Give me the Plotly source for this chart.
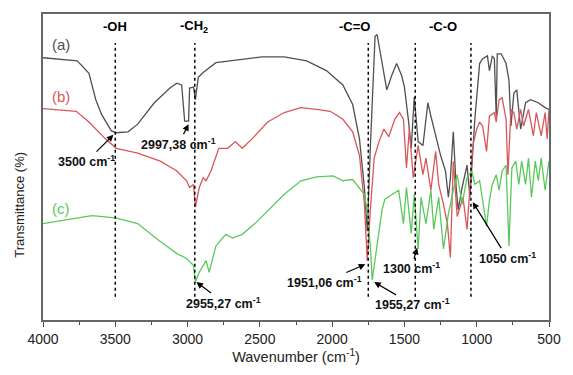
import plotly.graph_objects as go

# ---------------- data ----------------
wn_a = [4000, 3763, 3682, 3635, 3595, 3527, 3493, 3412, 3345, 3230, 3122, 3074, 3041, 3020, 2993,
        2986, 2959, 2946, 2926, 2892, 2804, 2649, 2486, 2331, 2176, 2040, 1926, 1858, 1811, 1777,
        1757, 1736, 1703, 1689, 1655, 1622, 1588, 1554, 1520, 1500, 1473, 1453, 1432, 1405, 1372,
        1338, 1317, 1284, 1250, 1216, 1196, 1182, 1162, 1142, 1128, 1101, 1067, 1047, 1013, 980,
        959, 926, 912, 892, 878, 865, 858, 831, 797, 777, 763, 743, 723, 696, 662, 628, 574, 527, 500]
t_a = [85.7, 84.7, 80.6, 72.0, 67.2, 61.8, 61.2, 61.5, 64.0, 71.0, 75.8, 77.4, 76.8, 65.0, 65.0,
       75.8, 76.1, 72.0, 79.3, 80.9, 84.1, 85.0, 86.0, 86.0, 84.7, 81.5, 76.8, 70.4, 59.2, 43.3,
       29.0, 56.1, 92.7, 93.3, 84.7, 75.2, 79.9, 83.8, 80.0, 76.1, 65.6, 56.1, 72.9, 58.3, 57.0,
       71.0, 66.6, 60.2, 53.8, 48.7, 40.1, 46.5, 61.5, 43.3, 36.0, 43.3, 50.6, 40.1, 65.6, 83.8,
       85.4, 86.3, 81.5, 86.3, 85.4, 66.6, 87.0, 87.0, 83.8, 78.4, 63.4, 74.2, 75.2, 62.4, 71.0,
       72.0, 71.0, 69.4, 68.8]

wn_b = [4000, 3770, 3682, 3568, 3493, 3345, 3189, 3074, 3007, 2986, 2959, 2946, 2919, 2892, 2872,
        2838, 2784, 2723, 2669, 2622, 2554, 2446, 2331, 2216, 2108, 2013, 1926, 1858, 1811, 1777,
        1757, 1736, 1709, 1676, 1642, 1608, 1567, 1534, 1507, 1486, 1466, 1439, 1405, 1372, 1351,
        1317, 1284, 1263, 1230, 1203, 1182, 1162, 1135, 1095, 1067, 1047, 1027, 1000, 980, 959,
        932, 912, 878, 865, 845, 824, 797, 784, 763, 743, 723, 696, 676, 642, 608, 588, 554, 527,
        513, 500]
t_b = [69.1, 68.2, 64.7, 59.2, 56.1, 54.5, 51.9, 48.7, 45.5, 43.3, 44.3, 36.9, 43.3, 46.5, 45.5,
       48.7, 56.1, 56.1, 58.3, 56.1, 59.2, 64.7, 67.8, 69.4, 68.8, 68.2, 65.6, 61.5, 53.8, 37.9,
       19.4, 36.0, 52.9, 58.3, 62.4, 59.9, 65.6, 67.8, 65.6, 49.7, 62.4, 46.5, 57.0, 47.5, 52.9,
       42.4, 55.1, 44.3, 37.9, 31.5, 20.4, 51.9, 33.8, 40.1, 29.6, 44.3, 57.0, 62.4, 64.7, 63.4,
       55.1, 66.6, 67.8, 64.7, 72.0, 72.6, 65.6, 47.5, 68.8, 67.8, 62.4, 68.8, 63.4, 68.8, 60.2,
       67.8, 60.2, 67.8, 59.2, 68.8]

wn_c = [4000, 3662, 3500, 3345, 3209, 3074, 3007, 2959, 2946, 2919, 2872, 2851, 2804, 2736, 2689,
        2622, 2534, 2419, 2331, 2216, 2108, 1993, 1926, 1858, 1811, 1777, 1757, 1736, 1723, 1689,
        1655, 1635, 1588, 1540, 1507, 1486, 1453, 1432, 1405, 1385, 1351, 1317, 1297, 1263, 1230,
        1196, 1162, 1135, 1101, 1067, 1034, 1013, 980, 959, 932, 912, 892, 865, 845, 824, 797, 777,
        757, 730, 709, 689, 662, 642, 621, 595, 574, 554, 527, 500]
t_c = [31.5, 34.1, 33.4, 31.5, 26.4, 21.7, 20.1, 17.8, 12.4, 15.6, 19.4, 15.6, 24.2, 28.0, 26.8,
       28.0, 31.5, 36.9, 41.1, 45.5, 46.8, 47.1, 45.5, 45.9, 43.3, 41.1, 35.4, 24.2, 13.1, 25.2,
       36.0, 39.5, 40.8, 42.4, 31.5, 43.3, 28.3, 41.1, 23.2, 40.1, 31.5, 42.4, 29.6, 40.1, 23.2,
       34.7, 42.4, 47.5, 37.9, 46.5, 48.7, 44.3, 45.5, 39.2, 30.6, 39.2, 44.3, 47.5, 42.4, 48.7,
       50.6, 24.2, 49.7, 51.9, 44.3, 51.9, 44.3, 52.9, 40.1, 51.9, 45.5, 52.9, 42.4, 51.9]

x_ticks = [4000, 3500, 3000, 2500, 2000, 1500, 1000, 500]
band_positions = [3500, 2950, 1750, 1425, 1040]
band_labels = ["-OH", "-CH<sub>2</sub>", "-C=O", "-C-O"]
band_label_x = [3500, 2959, 1845, 1236]

# peak annotations: (text, head wn, head T, text wn, text T)
peak_notes = [
    ("3500 cm<sup>-1</sup>", 3513, 60.5, 3696, 51.9),
    ("2997,38 cm<sup>-1</sup>", 2993, 64.0, 3061, 57.6),
    ("2955,27 cm<sup>-1</sup>", 2939, 12.4, 2750, 5.7),
    ("1951,06 cm<sup>-1</sup>", 1770, 18.2, 2054, 12.4),
    ("1955,27 cm<sup>-1</sup>", 1709, 12.4, 1446, 5.1),
    ("1300 cm<sup>-1</sup>", 1412, 23.6, 1453, 16.9),
    ("1050 cm<sup>-1</sup>", 1027, 38.5, 790, 20.4),
]

col_a, col_b, col_c = "#505050", "#d9575b", "#5cc85c"
FONT = "Liberation Sans, Arial, sans-serif"

fig = go.Figure()
fig.add_trace(go.Scatter(x=wn_a, y=t_a, mode="lines", line=dict(color=col_a, width=1.3), showlegend=False))
fig.add_trace(go.Scatter(x=wn_b, y=t_b, mode="lines", line=dict(color=col_b, width=1.3), showlegend=False))
fig.add_trace(go.Scatter(x=wn_c, y=t_c, mode="lines", line=dict(color=col_c, width=1.3), showlegend=False))

for bx in band_positions:
    fig.add_shape(type="line", x0=bx, x1=bx, y0=7.6, y1=90.5, xref="x", yref="y",
                  line=dict(color="black", width=1.5, dash="dot"))

for lab, lx in zip(band_labels, band_label_x):
    fig.add_annotation(x=lx, y=96.0, text=lab, showarrow=False,
                       font=dict(family=FONT, size=13, color="black", weight="bold"))

for txt, hx, hy, lx, ly in peak_notes:
    fig.add_annotation(x=hx, y=hy, ax=lx, ay=ly, axref="x", ayref="y", xref="x", yref="y",
                       text=txt, showarrow=True, arrowhead=2, arrowsize=1.1, arrowwidth=1.2,
                       arrowcolor="black", standoff=0,
                       font=dict(family=FONT, size=12.5, color="#111", weight="bold"))

for txt, col, yy in [("(a)", col_a, 90.1), ("(b)", col_b, 72.9), ("(c)", col_c, 36.3)]:
    fig.add_annotation(x=3878, y=yy, text=txt, showarrow=False,
                       font=dict(family=FONT, size=15, color=col))

# y-axis title placed as rotated text (sits low on the frame in the reference)
fig.add_annotation(xref="paper", yref="paper", x=-0.046, y=0.376, text="Transmittance (%)",
                   textangle=-90, showarrow=False, xanchor="center", yanchor="middle",
                   font=dict(family="Liberation Sans Narrow, Liberation Sans, Arial", size=13, color="#222"))

fig.update_layout(
    width=573, height=375,
    margin=dict(l=43, r=12, t=12, b=49),
    plot_bgcolor="white", paper_bgcolor="white",
    font=dict(family=FONT, color="#222"),
    xaxis=dict(range=[4000, 500], tickvals=x_ticks, ticks="outside", ticklen=5, tickwidth=1.2,
               tickcolor="#444", showline=True, linecolor="#666", linewidth=1.5, mirror=True,
               showgrid=False, zeroline=False, tickfont=dict(size=14, color="#222"),
               minor=dict(dtick=250, tick0=500, ticks="outside", ticklen=3, tickcolor="#444"),
               title=dict(text="Wavenumber (cm<sup>-1</sup>)", font=dict(size=14.5, color="#222"), standoff=6)),
    yaxis=dict(range=[0, 100], showticklabels=False, ticks="", showline=True, linecolor="#666",
               linewidth=1.5, mirror=True, showgrid=False, zeroline=False),
)

fig.write_html("out.html")
